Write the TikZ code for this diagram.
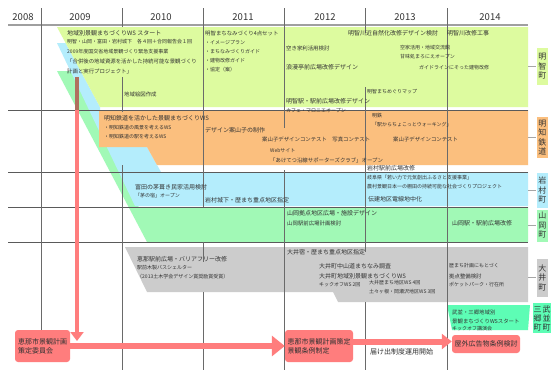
\documentclass[tikz,border=0pt]{standalone}
\usepackage{fontspec}
\setmainfont{Noto Sans CJK JP}
\usetikzlibrary{arrows.meta}
\definecolor{gA}{HTML}{DDFB9F}
\definecolor{oA}{HTML}{FBBF7E}
\definecolor{bA}{HTML}{B4EDFC}
\definecolor{mA}{HTML}{A1F9B6}
\definecolor{yA}{HTML}{CCCCCC}
\definecolor{aA}{HTML}{5DFDB5}
\definecolor{rd}{HTML}{FF7D7D}
\definecolor{rdk}{HTML}{B0705E}
\definecolor{txt}{HTML}{333333}
\definecolor{gl}{HTML}{6A6A6A}
\definecolor{sl}{HTML}{5A5A5A}
\tikzset{
 tb/.style={anchor=west,inner sep=0pt,text=txt,font=\fontsize{6}{7}\selectfont},
 tm/.style={anchor=west,inner sep=0pt,text=txt,font=\fontsize{5.4}{6}\selectfont},
 ts/.style={anchor=west,inner sep=0pt,text=txt,font=\fontsize{5}{6}\selectfont},
 tl/.style={anchor=west,inner sep=0pt,text=txt,font=\fontsize{7}{8}\selectfont},
 yr/.style={inner sep=0pt,text=txt,font=\fontsize{9.5}{10}\selectfont},
 lab/.style={inner sep=0pt,align=center,text=txt,font=\fontsize{8}{9.5}\selectfont,minimum width=11.5pt},
 rbox/.style={fill=rd,rounded corners=3pt,inner sep=2pt,align=left,text=txt,font=\fontsize{7}{9}\selectfont},
 gridln/.style={draw=gl,line width=0.7pt},
 sepln/.style={draw=sl,line width=0.6pt},
 tickln/.style={draw=gray!70,line width=0.6pt},
}
\begin{document}
\begin{tikzpicture}[x=1pt,y=-1pt]
\useasboundingbox (0,0) rectangle (551,370);
\fill[white] (0,0) rectangle (551,370);

% bands
\fill[mA] (57,71) -- (71,71) -- (138,206) -- (139,207) -- (528,207) -- (528,242) -- (147,242) -- cycle;
\fill[bA] (57,43) -- (65.6,43) -- (100,107) -- (100,110) -- (147,147) -- (161,172) -- (528,172) -- (528,206) -- (135,206) -- cycle;
\fill[oA] (99,110) -- (528,110) -- (528,165) -- (157,165) -- (147,147) -- (99,147) -- cycle;
\fill[gA] (57,27) -- (528,27) -- (528,107) -- (100,107) -- cycle;
\fill[yA] (125,247) -- (528,247) -- (528,302) -- (338,302) -- (333,292) -- (147,292) -- cycle;
\fill[aA] (447,305) -- (530,305) -- (528,330) -- (452,330) -- cycle;

% header line and row separators
\draw[draw=gray!75,line width=1.5pt] (8,25) -- (528,25);
\foreach \yy in {110,172,207,242} \draw[sepln] (8,\yy) -- (528,\yy);

% vertical grid segments
\draw[gridln] (41,8) -- (41,330);
\draw[gridln] (122,8) -- (122,27) (122,77) -- (122,112) (122,165) -- (122,370);
\draw[gridln] (203,8) -- (203,207) (203,242) -- (203,262) (203,292) -- (203,370);
\draw[gridln] (284,8) -- (284,128) (284,170) -- (284,370);
\draw[gridln] (365,8) -- (365,33) (365,87) -- (365,252) (365,302) -- (365,370);
\draw[gridln] (447,8) -- (447,370);

% years
\node[yr] (y08) at (23,17) {2008};
\node[yr] (y09) at (80,17) {2009};
\node[yr] (y10) at (161,17) {2010};
\node[yr] (y11) at (243,17) {2011};
\node[yr] (y12) at (325,17) {2012};
\node[yr] (y13) at (405,17) {2013};
\node[yr] (y14) at (490,17) {2014};

% right labels
\node[lab,fill=gA,minimum height=37pt] (lA) at (542.3,66.5) {明\\智\\町};
\node[lab,fill=oA,minimum height=41pt] (lB) at (542.3,137.5) {明\\知\\鉄\\道};
\node[lab,fill=bA,minimum height=35pt] (lC) at (542.3,190) {岩\\村\\町};
\node[lab,fill=mA,minimum height=32pt] (lD) at (542.3,225.5) {山\\岡\\町};
\node[lab,fill=yA,minimum height=38pt] (lE) at (542.3,277.5) {大\\井\\町};
\node[lab,fill=aA,minimum height=30pt,minimum width=18pt,font=\fontsize{8}{9}\selectfont] (lF) at (542,318) {三\hspace{1pt}武\\郷\hspace{1pt}並\\町\hspace{1pt}町};
\coordinate (kA) at (528,66.5);
\coordinate (kB) at (528,137.5);
\coordinate (kC) at (528,190);
\coordinate (kD) at (528,225.5);
\coordinate (kE) at (528,277.5);
\draw[tickln] (kA) -- (lA.west);
\draw[tickln] (kB) -- (lB.west);
\draw[tickln] (kC) -- (lC.west);
\draw[tickln] (kD) -- (lD.west);
\draw[tickln] (kE) -- (lE.west);

% band 1 texts
\node[tb] (a1) at (67,33) {地域別景観まちづくりWS スタート};
\node[ts] (a2) at (67,42) {明智・山岡・富田・岩村城下　各４回＋合同報告会１回};
\node[ts] (a3) at (67,52) {2009年度国交省地域景観づくり緊急支援事業};
\node[tm] (a4) at (67,61) {「合併後の地域資源を活かした持続可能な景観づくり};
\node[tm] (a5) at (67,71) {計画と実行プロジェクト」};
\node[tm] (a6) at (124,94) {地域絵図作成};
\node[tm] (a7) at (205,33) {明智まちなみづくり4点セット};
\node[ts] (a8) at (205,43) {・イメージプラン};
\node[ts] (a9) at (205,52) {・まちなみづくりガイド};
\node[ts] (a10) at (205,61) {・建物改修ガイド};
\node[ts] (a11) at (205,70) {・協定（案）};
\node[tm] (a12) at (286,48) {空き家利活用検討};
\node[tb] (a13) at (286,67) {浪漫亭前広場改修デザイン};
\node[tb] (a14) at (286,101) {明智駅・駅前広場改修デザイン};
\node[ts] (a15) at (286,111) {カフェ・マロニエオープン};
\node[tb] (a16) at (348,33) {明智川近自然化改修デザイン検討};
\node[tb] (a17) at (447,33) {明智川改修工事};
\node[ts] (a18) at (400,48) {空家活用・地域交流館};
\node[ts] (a19) at (400,57) {甘味処まろにえオープン};
\node[ts] (a20) at (419,68) {ガイドラインにそった建物改修};
\node[ts] (a21) at (367,92) {明智まちめぐりマップ};

% band 2 texts
\node[tb] (b1) at (104,118) {明知鉄道を活かした景観まちづくりWS};
\node[ts] (b2) at (104,128) {・明知鉄道の風景を考えるWS};
\node[ts] (b3) at (104,137) {・明知鉄道の駅を考えるWS};
\node[tb] (b4) at (205,130) {デザイン案山子の制作};
\node[tm] (b5) at (262,139) {案山子デザインコンテスト　写真コンテスト};
\node[ts] (b6) at (270,151) {Webサイト};
\node[tm] (b7) at (270,160) {「あけてつ沿線サポーターズクラブ」オープン};
\node[ts] (b8) at (372,116) {明鉄};
\node[ts] (b9) at (372,125) {「駅からちょこっとウォーキング」};
\node[tm] (b10) at (393,139) {案山子デザインコンテスト};
\node[tb] (b11) at (367,168) {岩村駅前広場改修};

% band 3 texts
\node[ts] (c1) at (367,178) {岐阜県「若い力で元気創出ふるさと支援事業」};
\node[ts] (c2) at (367,187) {農村景観日本一の棚田の持続可能な社会づくりプロジェクト};
\node[tb] (c3) at (368,199) {伝建地区電線地中化};
\node[tb] (c4) at (135,187) {富田の茅葺き民家活用検討};
\node[ts] (c5) at (135,196) {「茅の宿」オープン};
\node[tb] (c6) at (205,200) {岩村城下・歴まち重点地区指定};

% band 4 texts
\node[tb] (d1) at (287,213) {山岡拠点地区広場・施設デザイン};
\node[tm] (d2) at (287,223) {山岡駅前広場計画検討};
\node[tb] (d3) at (452,223) {山岡駅・駅前広場改修};

% band 5 texts
\node[tb] (e1) at (137,259) {恵那駅前広場・バリアフリー改修};
\node[ts] (e2) at (137,268) {駅前木製バスシェルター};
\node[ts] (e3) at (137,277) {（2013土木学会デザイン賞奨励賞受賞）};
\node[tb] (e4) at (287,252) {大井宿・歴まち重点地区指定};
\node[tb] (e5) at (319,266) {大井町中山道まちなみ調査};
\node[tb] (e6) at (319,276) {大井町地域別景観まちづくりWS};
\node[ts] (e7) at (319,285) {キックオフWS 2回};
\node[ts] (e8) at (369,283) {大井歴まち地区WS 4回};
\node[ts] (e9) at (369,292) {土々ヶ根・岡瀬沢地区WS 3回};
\node[ts] (e10) at (449,266) {歴まち計画にもとづく};
\node[tm] (e11) at (449,276) {拠点整備検討};
\node[ts] (e12) at (449,285) {ポケットパーク・行在所};

% band 6 texts
\node[tm] (f1) at (452,312) {武並・三郷地域別};
\node[tm] (f2) at (452,321) {景観まちづくりWSスタート};
\node[ts] (f3) at (452,329) {キックオフ講演会};

% bottom boxes and arrows
\node[rbox,minimum width=55pt,minimum height=32pt] (r1) at (42.5,346) {恵那市景観計画\\策定委員会};
\node[rbox,minimum width=68pt,minimum height=32pt] (r2) at (319,346) {恵那市景観計画策定\\景観条例制定};
\node[rbox,minimum width=68pt,minimum height=18pt] (r3) at (486,344) {屋外広告物条例検討};
\node[tl] (g1) at (370,352) {届け出制度運用開始};

\coordinate (vTop) at (77,77);
\coordinate (vMid) at (77,110);
\coordinate (vEnd) at (77,341);
\draw[rdk,line width=4pt] (vTop) -- (vMid);
\draw[rd,line width=4pt,-{Triangle[width=13pt,length=9pt]}] (vMid) -- (vEnd);
\draw[rd,line width=6pt,-{Triangle[width=20pt,length=13pt]}] (r1.east) -- (r2.west);
\coordinate (h2s) at (r2.east |- 0,341.5);
\coordinate (h2e) at (r3.west |- 0,341.5);
\draw[rd,line width=6pt,-{Triangle[width=15pt,length=10pt]}] (h2s) -- (h2e);
\end{tikzpicture}
\end{document}
